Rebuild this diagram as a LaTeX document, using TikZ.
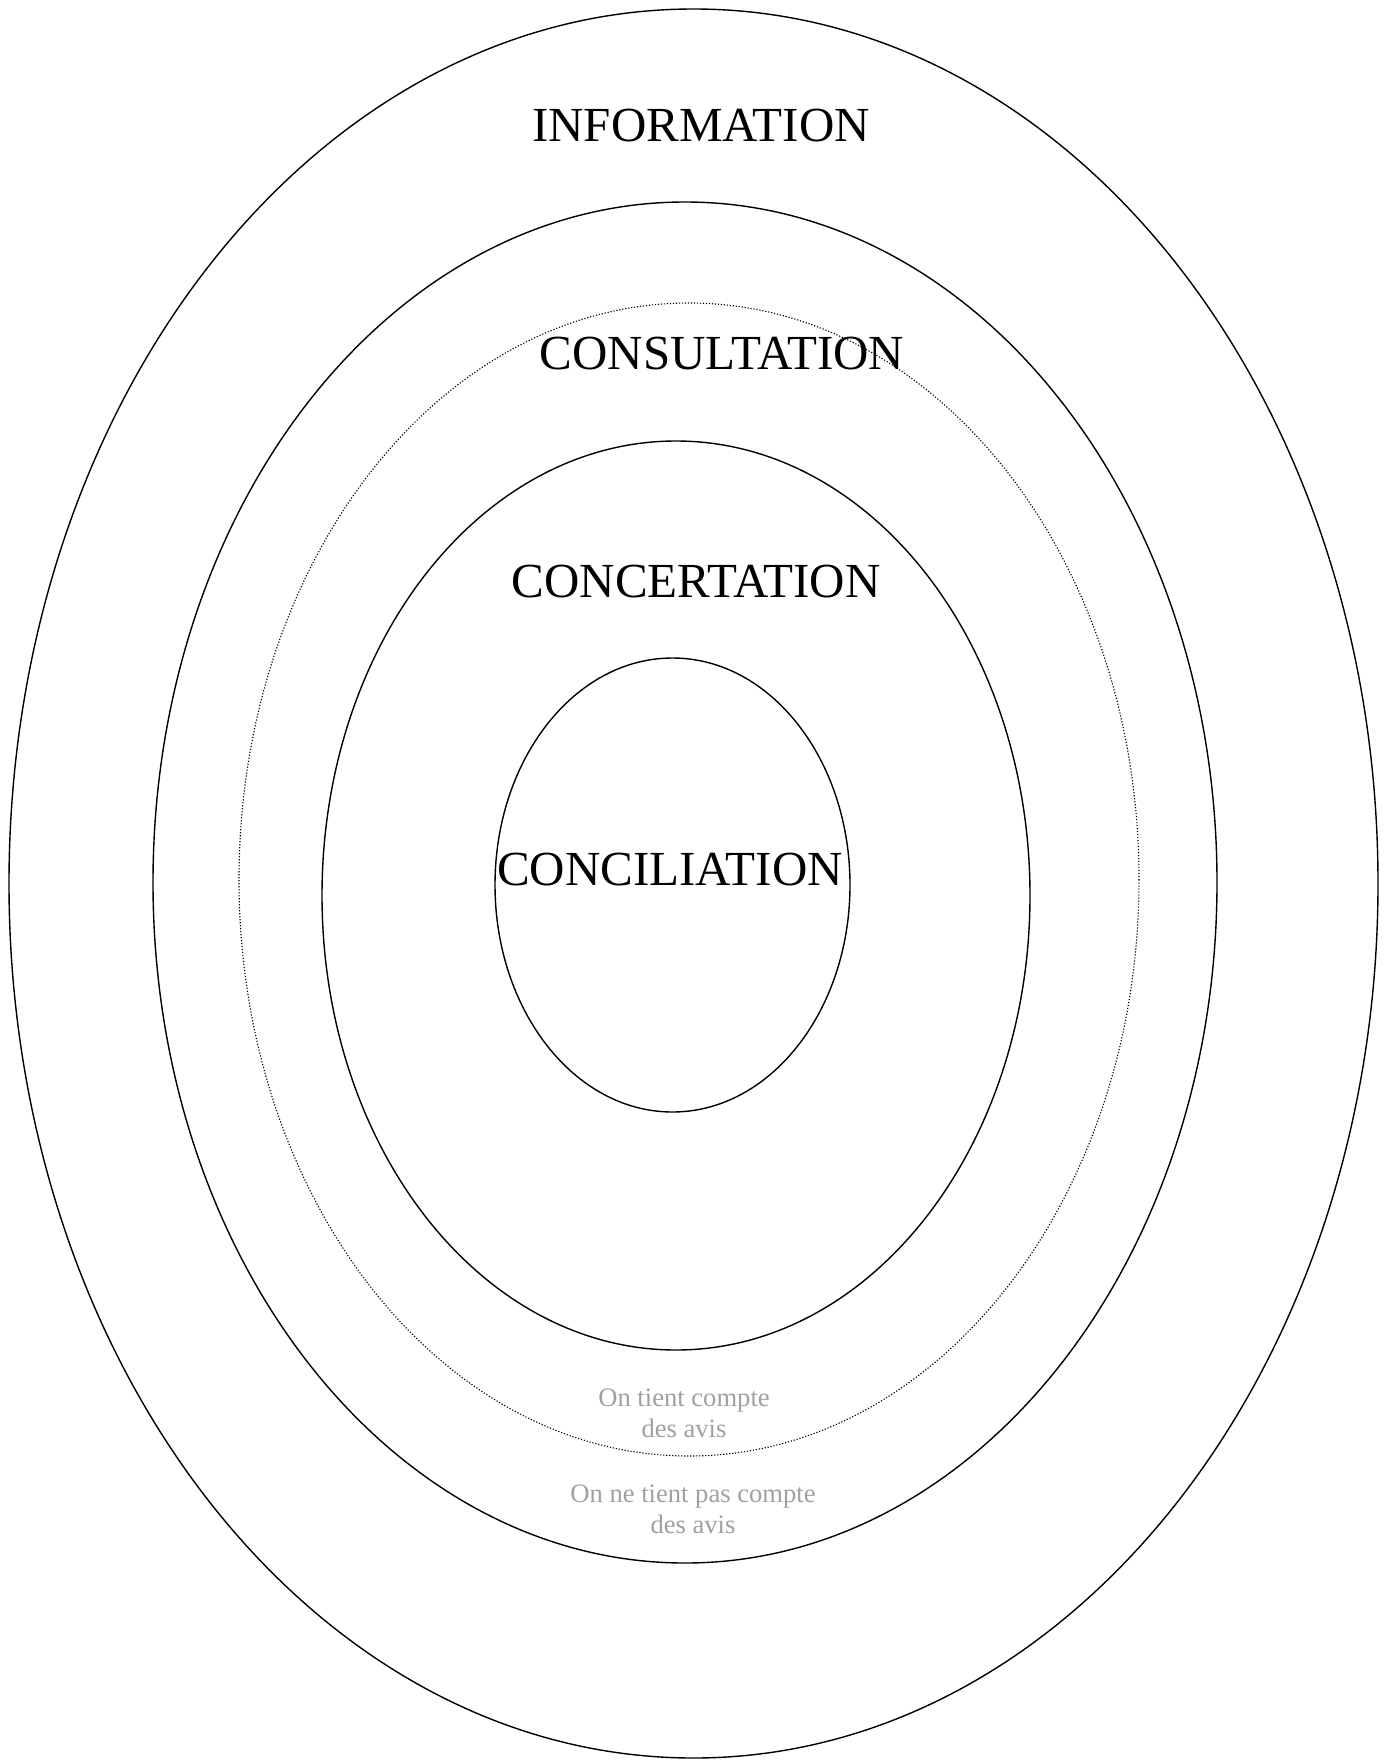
\documentclass[tikz,border=0pt]{standalone}
\usepackage{fontspec}
\setmainfont{Liberation Serif}
\definecolor{avisgray}{RGB}{160,160,160}

\begin{document}
\begin{tikzpicture}[
    x=0.5pt, y=-0.5pt,
    ring/.style={line width=0.7pt},
    ring_dotted/.style={line width=0.55pt, dash pattern=on 0.6pt off 0.9pt},
    level/.style={font=\fontsize{24.5}{28}\selectfont, inner sep=0pt},
    note/.style={font=\fontsize{13.3}{15.5}\selectfont, text=avisgray, align=center, inner sep=0pt}
]
\useasboundingbox (0,0) rectangle (1389,1760);

% Les cercles de participation
\draw[ring] (693.5,883.5) ellipse [x radius=684.5, y radius=874.5];
\draw[ring] (685,882.5) ellipse [x radius=532, y radius=680.5];
\draw[ring_dotted] (689,879.5) ellipse [x radius=450, y radius=576.5];
\draw[ring] (676,895.5) ellipse [x radius=354, y radius=454.5];
\draw[ring] (672.5,885) ellipse [x radius=177.5, y radius=227];

% Niveaux
\node[level] (information) at (701,126) {INFORMATION};
\node[level] (consultation) at (722,354) {CONSULTATION};
\node[level] (concertation) at (696,582) {CONCERTATION};
\node[level] (conciliation) at (670,870) {CONCILIATION};

% Avis
\node[note] (avis_oui) at (684,1413) {On tient compte\\des avis};
\node[note] (avis_non) at (693,1509) {On ne tient pas compte\\des avis};

\end{tikzpicture}
\end{document}
